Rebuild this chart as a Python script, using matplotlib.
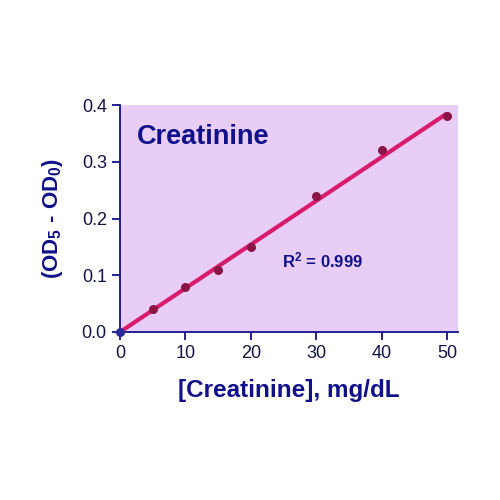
import matplotlib
matplotlib.use("Agg")
import matplotlib.pyplot as plt
import numpy as np

plt.rcParams['font.family'] = ['Liberation Sans', 'DejaVu Sans']
plt.rcParams['mathtext.fontset'] = 'custom'
plt.rcParams['mathtext.rm'] = 'Liberation Sans'
plt.rcParams['mathtext.bf'] = 'Liberation Sans:bold'
plt.rcParams['mathtext.it'] = 'Liberation Sans:italic'

conc = [0, 5, 10, 15, 20, 30, 40, 50]
od = [0.0, 0.04, 0.08, 0.11, 0.15, 0.24, 0.32, 0.38]
fit_x = [0, 50]
fit_y = [0.0, 0.385]
xticks = [0, 10, 20, 30, 40, 50]
yticks = [0.0, 0.1, 0.2, 0.3, 0.4]

navy = '#10108a'
fig = plt.figure(figsize=(5, 5), dpi=100)
ax = fig.add_axes([0.24, 0.336, 0.676, 0.454])
ax.set_facecolor('#e8cdf6')
ax.plot(fit_x, fit_y, color='#d81b6a', lw=3, zorder=2, solid_capstyle='butt')
ax.scatter(conc[1:], od[1:], s=30, color='#8a1545', zorder=3)
ax.scatter(conc[:1], od[:1], s=30, color='#2a2a9a', zorder=4, clip_on=False)
ax.set_xlim(0, 51.7)
ax.set_ylim(0, 0.4)
ax.set_xticks(xticks)
ax.set_xticklabels([str(v) for v in xticks])
ax.set_yticks(yticks)
ax.set_yticklabels([f'{v:.1f}' for v in yticks])
for s in ['top', 'right']:
    ax.spines[s].set_visible(False)
for s in ['left', 'bottom']:
    ax.spines[s].set_color(navy)
    ax.spines[s].set_linewidth(1.3)
ax.tick_params(colors=navy, labelcolor='#141446', labelsize=13, length=6, width=1.3)
ax.set_xlabel('[Creatinine], mg/dL', fontsize=17.5, fontweight='bold', color=navy, labelpad=12)
ax.set_ylabel('(OD$_\\mathbf{5}$ - OD$_\\mathbf{0}$)', fontsize=16, fontweight='bold', color=navy, labelpad=12)
ax.text(0.05, 0.86, 'Creatinine', transform=ax.transAxes, fontsize=19.5, fontweight='bold', color=navy, va='center')
ax.text(0.48, 0.285, 'R$^\\mathbf{2}$ = 0.999', transform=ax.transAxes, fontsize=12, fontweight='bold', color=navy)
fig.savefig('out.png', dpi=100)
